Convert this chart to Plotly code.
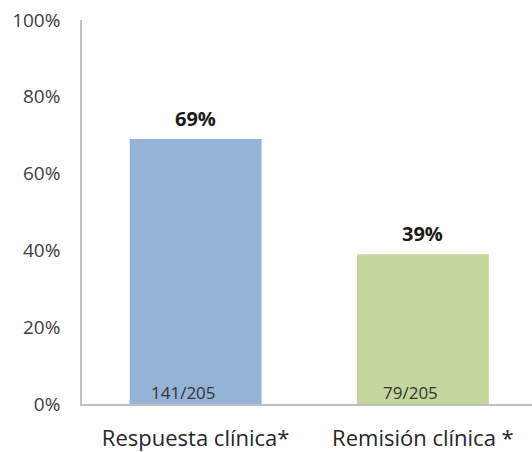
import plotly.graph_objects as go

categories = ["Respuesta clínica*", "Remisión clínica *"]
values = [69, 39]
counts = ["141/205", "79/205"]
pct_labels = ["69%", "39%"]
colors = ["#95B3D7", "#C3D69B"]
y_ticks = [0, 20, 40, 60, 80, 100]
y_tick_labels = ["0%", "20%", "40%", "60%", "80%", "100%"]

FONT = "Open Sans, sans-serif"

fig = go.Figure()
fig.add_trace(go.Bar(
    x=[0, 1], y=values, width=0.58,
    marker=dict(color=colors, line=dict(width=0)),
    hoverinfo="skip",
))
for i, (v, p, c) in enumerate(zip(values, pct_labels, counts)):
    fig.add_annotation(
        x=i, y=v, text=f"<b>{p}</b>", showarrow=False,
        yanchor="bottom", yshift=5,
        font=dict(family=FONT, size=20, color="#1a1a1a"),
    )
    fig.add_annotation(
        x=i, y=0, text=c, showarrow=False,
        yanchor="bottom", yshift=-2, xshift=-12,
        font=dict(family=FONT, size=17, color="#333333"),
    )
fig.update_layout(
    width=532, height=452,
    margin=dict(l=82, r=0, t=20, b=44),
    paper_bgcolor="white", plot_bgcolor="white",
    showlegend=False,
    font=dict(family=FONT),
)
fig.update_xaxes(
    range=[-0.5, 1.48], tickvals=[0, 1], ticktext=categories,
    showline=True, linecolor="#BFBFBF", linewidth=1.5,
    showgrid=False, zeroline=False, ticks="",
    ticklabelstandoff=14,
    tickfont=dict(family=FONT, size=22, color="#262626"),
)
fig.update_yaxes(
    range=[0, 100], tickvals=y_ticks, ticktext=y_tick_labels,
    showline=True, linecolor="#BFBFBF", linewidth=1.5,
    showgrid=False, zeroline=False, ticks="",
    ticklabelstandoff=16,
    tickfont=dict(family=FONT, size=19, color="#404040"),
)
fig.write_html("out.html")
